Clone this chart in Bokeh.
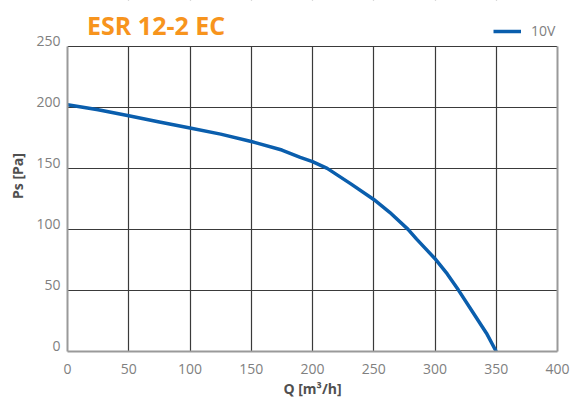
from bokeh.plotting import figure
from bokeh.models import Range1d, Legend, LegendItem, Label, FixedTicker, LinearAxis, Grid, BoxAnnotation
from bokeh.embed import file_html
from bokeh.resources import INLINE

# data
q_values = [0, 25, 50, 75, 100, 125, 150, 175, 190, 200, 212, 231, 250, 263, 278, 285, 300, 310, 319, 331, 342, 350]
ps_values = [202, 198, 193, 188, 183, 178, 172, 165, 159, 155.5, 150, 137.5, 124.5, 114, 100, 92, 76, 63.5, 50.5, 32, 15, 0]
x_ticks = [0, 50, 100, 150, 200, 250, 300, 350, 400]
y_ticks = [0, 50, 100, 150, 200, 250]
series_name = "10V"
title_text = "ESR 12-2 EC"

FONT = "Open Sans"
BLUE = "#0a5ead"
ORANGE = "#f7941d"
GRAY_AXIS = "#9a9a9a"
GRID_DARK = "#3a3a3a"

X_MAX = 400
Y_MAX = 250
# the frame extends above the 250 line to hold title and legend (353 px frame, 307 px for 0..250)
Y_TOP = Y_MAX * 353 / 307
# y tick labels sit just above their grid line: a twin range shifted by ~5 px
LBL_SHIFT = 4.3

p = figure(width=571, height=400, output_backend="svg", toolbar_location=None,
           x_range=Range1d(0, X_MAX), y_range=Range1d(0, Y_TOP),
           y_axis_location=None,
           min_border_left=67, min_border_right=14, min_border_top=0, min_border_bottom=47)
p.outline_line_color = None
p.background_fill_color = "white"
p.extra_y_ranges = {"lbl": Range1d(-LBL_SHIFT, Y_TOP - LBL_SHIFT)}


def style_axis(ax):
    ax.major_tick_line_color = None
    ax.minor_tick_line_color = None
    ax.major_tick_out = 0
    ax.major_tick_in = 0
    ax.minor_tick_out = 0
    ax.minor_tick_in = 0
    ax.axis_line_color = GRAY_AXIS
    ax.axis_line_width = 2
    ax.major_label_text_font = FONT
    ax.major_label_text_font_size = "14px"
    ax.major_label_text_color = "#808080"
    ax.axis_label_text_font = FONT
    ax.axis_label_text_font_size = "14px"
    ax.axis_label_text_font_style = "bold"
    ax.axis_label_text_color = "#505050"


def edge_axis():
    ax = LinearAxis(ticker=FixedTicker(ticks=[]), bounds=(0, Y_MAX))
    style_axis(ax)
    ax.major_label_standoff = 0
    ax.axis_label_standoff = 0
    return ax


xax = p.xaxis[0]
style_axis(xax)
xax.ticker = FixedTicker(ticks=x_ticks)
xax.axis_label = "Q [m\u00b3/h]"
xax.major_label_standoff = 12
xax.axis_label_standoff = 2

# gray left edge (inner), then the labelled axis
p.add_layout(edge_axis(), "left")

yax = LinearAxis(y_range_name="lbl")
style_axis(yax)
yax.ticker = FixedTicker(ticks=y_ticks)
yax.bounds = (-LBL_SHIFT, Y_MAX)
yax.axis_line_color = None
yax.axis_label = "Ps [Pa]"
yax.major_label_standoff = 7
yax.axis_label_standoff = 6
p.add_layout(yax, "left")

# gray right edge
p.add_layout(edge_axis(), "right")

p.xgrid.ticker = FixedTicker(ticks=x_ticks[1:-1])
p.xgrid.grid_line_color = GRID_DARK
p.xgrid.grid_line_width = 1.2

# white band above the 250 line hides the upper part of the vertical grid lines
p.add_layout(BoxAnnotation(bottom=Y_MAX, fill_color="white", fill_alpha=1.0,
                           line_color=None, level="underlay"))

ygrid = Grid(dimension=1, ticker=FixedTicker(ticks=y_ticks[1:]),
             grid_line_color=GRID_DARK, grid_line_width=1.2)
p.add_layout(ygrid)

r = p.line(q_values, ps_values, line_color=BLUE, line_width=3.5)

legend = Legend(items=[LegendItem(label=series_name, renderers=[r])],
                location=(426, 311), padding=0, margin=0, spacing=0,
                glyph_width=28, glyph_height=16, label_standoff=10,
                border_line_color=None, background_fill_alpha=0,
                label_text_font=FONT, label_text_font_size="14px", label_text_color="#808080")
p.add_layout(legend)

p.add_layout(Label(x=16, y=267.5, text=title_text, text_font=FONT, text_font_size="25px",
                   text_font_style="bold", text_color=ORANGE, text_baseline="alphabetic"))

open("out.html", "w").write(file_html(p, INLINE))
